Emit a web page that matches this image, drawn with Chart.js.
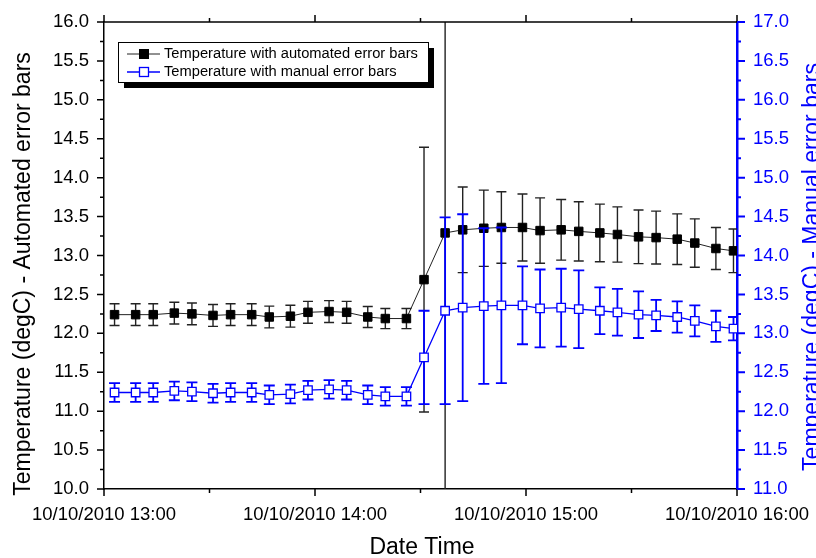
<!DOCTYPE html>
<html>
<head>
<meta charset="utf-8">
<script src="https://cdn.jsdelivr.net/npm/chart.js@4/dist/chart.umd.min.js"></script>
<style>
  html, body { margin: 0; padding: 0; background: #fff; }
  #chart { display: block; }
</style>
</head>
<body>
<canvas id="chart" width="816" height="558"></canvas>
<script>
// readings on 10/10/2010, roughly every 5.5 minutes
const times = ['13:03', '13:09', '13:14', '13:20', '13:25', '13:31', '13:36', '13:42', '13:47', '13:53', '13:58',
    '14:04', '14:09', '14:15', '14:20', '14:26', '14:31', '14:37', '14:42', '14:48', '14:53', '14:59',
    '15:04', '15:10', '15:15', '15:21', '15:26', '15:32', '15:37', '15:43', '15:48', '15:54', '15:59'];

const temperature = [12.24, 12.24, 12.24, 12.26, 12.25, 12.23, 12.24, 12.24, 12.21, 12.22, 12.27,
    12.28, 12.27, 12.21, 12.19, 12.19, 12.69, 13.29, 13.33, 13.35, 13.36, 13.36,
    13.32, 13.33, 13.31, 13.29, 13.27, 13.24, 13.23, 13.21, 13.16, 13.09, 13.06];

// automated error bars (left axis), manual error bars (right axis)
const autoErr = [0.14, 0.14, 0.14, 0.14, 0.14, 0.14, 0.14, 0.14, 0.14, 0.14, 0.14,
    0.14, 0.14, 0.135, 0.13, 0.13, 1.7, 3.6, 0.55, 0.49, 0.46, 0.43,
    0.42, 0.39, 0.38, 0.37, 0.355, 0.345, 0.34, 0.325, 0.31, 0.27, 0.28];
const manualErr = [0.12, 0.12, 0.12, 0.12, 0.12, 0.12, 0.12, 0.12, 0.12, 0.12, 0.12,
    0.12, 0.12, 0.12, 0.12, 0.12, 0.6, 1.2, 1.2, 1.0, 1.0, 0.5,
    0.5, 0.5, 0.5, 0.3, 0.3, 0.3, 0.2, 0.2, 0.2, 0.2, 0.15];

const xTicks = ['13:00', '14:00', '15:00', '16:00'];
const dateLabel = '10/10/2010';

const FONT = '"Liberation Sans", Arial, sans-serif';
const BLUE = '#0000ff';

function toMin(t) {
    const [h, m] = t.split(':').map(Number);
    return (h - 13) * 60 + m;
}
function fmtMin(v) {
    const h = 13 + Math.floor(v / 60);
    const m = Math.round(v % 60);
    return h + ':' + String(m).padStart(2, '0');
}

const points = times.map((t, i) => ({ x: toMin(t), y: temperature[i] }));

// draw each dataset's error bars right before the dataset itself
const errorBars = {
    id: 'errorBars',
    beforeDatasetDraw(chart, args) {
        const ds = chart.data.datasets[args.index];
        if (!ds.errors) return;
        const { ctx, chartArea } = chart;
        const xs = chart.scales.x;
        const ys = chart.scales[ds.yAxisID];
        ctx.save();
        ctx.beginPath();
        ctx.rect(chartArea.left, chartArea.top, chartArea.width, chartArea.height);
        ctx.clip();
        ctx.strokeStyle = ds.errColor;
        ctx.lineWidth = ds.errWidth;
        ds.data.forEach((p, i) => {
            const px = xs.getPixelForValue(p.x);
            const top = ys.getPixelForValue(p.y + ds.errors[i]);
            const bot = ys.getPixelForValue(p.y - ds.errors[i]);
            const c = ds.capHalf;
            ctx.beginPath();
            ctx.moveTo(px, top); ctx.lineTo(px, bot);
            ctx.moveTo(px - c, top); ctx.lineTo(px + c, top);
            ctx.moveTo(px - c, bot); ctx.lineTo(px + c, bot);
            ctx.stroke();
        });
        ctx.restore();
    }
};

// Origin-like frame: top line, outward major/minor ticks, axis titles, legend
const frame = {
    id: 'frame',
    afterDraw(chart) {
        const { ctx, chartArea: a } = chart;
        const xs = chart.scales.x, yl = chart.scales.y, yr = chart.scales.y2;
        ctx.save();

        ctx.strokeStyle = '#000';
        ctx.lineWidth = 1.5;
        ctx.beginPath();
        ctx.moveTo(a.left, a.top); ctx.lineTo(a.right, a.top);
        ctx.stroke();

        ctx.beginPath();
        for (let m = 0; m <= 180; m += 30) {
            const px = xs.getPixelForValue(m);
            const len = m % 60 === 0 ? 7 : 4;
            ctx.moveTo(px, a.bottom); ctx.lineTo(px, a.bottom + len);
            ctx.moveTo(px, a.top); ctx.lineTo(px, a.top - len);
        }
        for (let v = 10; v <= 16.001; v += 0.25) {
            const py = yl.getPixelForValue(v);
            const len = Math.abs(v * 2 - Math.round(v * 2)) < 0.01 ? 7 : 4;
            ctx.moveTo(a.left, py); ctx.lineTo(a.left - len, py);
        }
        ctx.stroke();

        ctx.strokeStyle = BLUE;
        ctx.lineWidth = 2;
        ctx.beginPath();
        for (let v = 11; v <= 17.001; v += 0.25) {
            const py = yr.getPixelForValue(v);
            const len = Math.abs(v * 2 - Math.round(v * 2)) < 0.01 ? 8 : 4;
            ctx.moveTo(a.right, py); ctx.lineTo(a.right + len, py);
        }
        ctx.stroke();

        // axis titles
        ctx.font = '23px ' + FONT;
        ctx.textAlign = 'center';
        ctx.textBaseline = 'middle';
        ctx.fillStyle = '#000';
        ctx.fillText('Date Time', 422, 548);
        ctx.save();
        ctx.translate(24, 274);
        ctx.rotate(-Math.PI / 2);
        ctx.fillText('Temperature (degC) - Automated error bars', 0, 0);
        ctx.restore();
        ctx.save();
        ctx.translate(813, 267);
        ctx.rotate(-Math.PI / 2);
        ctx.fillStyle = BLUE;
        ctx.fillText('Temperature (degC) - Manual error bars', 0, 0);
        ctx.restore();

        // legend with drop shadow
        const bx = 118, by = 42, bw = 310, bh = 40;
        ctx.fillStyle = '#000';
        ctx.fillRect(bx + 6, by + 6, bw, bh);
        ctx.fillStyle = '#fff';
        ctx.fillRect(bx, by, bw, bh);
        ctx.strokeStyle = '#000';
        ctx.lineWidth = 1;
        ctx.strokeRect(bx + 0.5, by + 0.5, bw, bh);

        ctx.font = '14.7px ' + FONT;
        ctx.textAlign = 'left';
        chart.data.datasets.slice().sort((d1, d2) => d1.legendRow - d2.legendRow).forEach((ds, i) => {
            const ry = 54 + i * 18;
            ctx.strokeStyle = ds.borderColor;
            ctx.lineWidth = ds.borderWidth;
            ctx.beginPath();
            ctx.moveTo(127, ry); ctx.lineTo(160, ry);
            ctx.stroke();
            ctx.fillStyle = ds.pointBackgroundColor;
            ctx.strokeStyle = ds.pointBorderColor;
            ctx.lineWidth = ds.pointBorderWidth;
            ctx.fillRect(139.5, ry - 4.5, 9, 9);
            ctx.strokeRect(139.5, ry - 4.5, 9, 9);
            ctx.fillStyle = '#000';
            ctx.fillText(ds.label, 164, ry);
        });

        ctx.restore();
    }
};

const tickFont = { family: FONT, size: 18.5 };

// pin the plot box: no automatic label overflow padding
function pinX(s) {
    s.height = 69;
    s.paddingLeft = 0;
    s.paddingRight = 0;
}
function pinY(w) {
    return s => {
        s.width = w;
        s.paddingTop = 0;
        s.paddingBottom = 0;
    };
}

new Chart(document.getElementById('chart'), {
    type: 'line',
    data: {
        datasets: [
            {
                label: 'Temperature with automated error bars',
                legendRow: 0,
                data: points,
                yAxisID: 'y',
                order: 1,
                borderColor: '#222',
                borderWidth: 1,
                pointStyle: 'rect',
                pointRadius: 6,
                pointBackgroundColor: '#000',
                pointBorderColor: '#000',
                pointBorderWidth: 1,
                errors: autoErr,
                errColor: '#222',
                errWidth: 1.4,
                capHalf: 5
            },
            {
                label: 'Temperature with manual error bars',
                legendRow: 1,
                data: points,
                yAxisID: 'y2',
                order: 0,
                borderColor: BLUE,
                borderWidth: 1.3,
                pointStyle: 'rect',
                pointRadius: 6,
                pointBackgroundColor: '#fff',
                pointBorderColor: BLUE,
                pointBorderWidth: 1.3,
                errors: manualErr,
                errColor: BLUE,
                errWidth: 1.8,
                capHalf: 5.5
            }
        ]
    },
    options: {
        responsive: false,
        animation: false,
        devicePixelRatio: 1,
        layout: { padding: { top: 22, left: 0, right: 0, bottom: 0 } },
        plugins: {
            legend: { display: false },
            tooltip: { enabled: false }
        },
        scales: {
            x: {
                type: 'linear',
                min: 0,
                max: 180,
                afterBuildTicks: s => { s.ticks = xTicks.map(t => ({ value: toMin(t) })); },
                afterFit: pinX,
                ticks: {
                    callback: v => dateLabel + ' ' + fmtMin(v),
                    font: tickFont,
                    color: '#000',
                    padding: 15,
                    maxRotation: 0,
                    autoSkip: false
                },
                grid: { display: false, drawTicks: false },
                border: { color: '#000', width: 1.5 }
            },
            y: {
                position: 'left',
                min: 10,
                max: 16,
                ticks: {
                    stepSize: 0.5,
                    callback: v => v.toFixed(1),
                    font: tickFont,
                    color: '#000',
                    padding: 15
                },
                afterFit: pinY(104),
                grid: { display: false, drawTicks: false },
                border: { color: '#000', width: 1.5 }
            },
            y2: {
                position: 'right',
                min: 11,
                max: 17,
                ticks: {
                    stepSize: 0.5,
                    callback: v => v.toFixed(1),
                    font: tickFont,
                    color: BLUE,
                    padding: 16
                },
                afterFit: pinY(79),
                grid: { display: false, drawTicks: false },
                border: { color: BLUE, width: 2.5 }
            }
        }
    },
    plugins: [errorBars, frame]
});
</script>
</body>
</html>
